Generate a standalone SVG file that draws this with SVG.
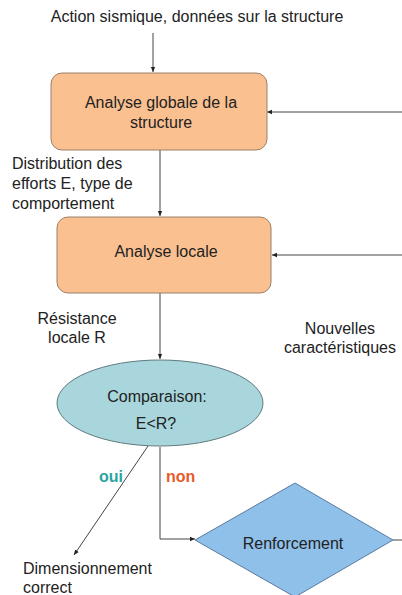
<svg xmlns="http://www.w3.org/2000/svg" width="402" height="595" viewBox="0 0 402 595">
<style>
text{font-family:"Liberation Sans",Arial,sans-serif;font-size:16px;fill:#222}
.c{text-anchor:middle}
.box{fill:#FAC090;stroke:#9a8068;stroke-width:1}
.ln{fill:none;stroke:#444;stroke-width:1;marker-end:url(#ah)}
</style>
<defs>
<marker id="ah" viewBox="0 0 8 8" refX="7" refY="4" markerWidth="6" markerHeight="6" orient="auto">
<path d="M0,1 L7,4 L0,7 z" fill="#222"/>
</marker>
</defs>
<rect width="402" height="595" fill="#fff"/>
<text class="c" x="197" y="22">Action sismique, données sur la structure</text>
<g id="connectors">
<line class="ln" x1="153" y1="33" x2="153" y2="72"/>
<line class="ln" x1="402" y1="112" x2="267" y2="112"/>
<line class="ln" x1="160" y1="150" x2="160" y2="216"/>
<line class="ln" x1="402" y1="255" x2="272" y2="255"/>
<line class="ln" x1="160" y1="293" x2="160" y2="359"/>
<line class="ln" x1="148" y1="446" x2="74" y2="555"/>
<polyline class="ln" points="160,447 160,539 195,539"/>
<line x1="393" y1="540" x2="402" y2="540" stroke="#444" stroke-width="1"/>
</g>
<g id="n1">
<rect class="box" x="51" y="73" width="216" height="77" rx="11"/>
<text class="c" x="161" y="108">Analyse globale de la</text>
<text class="c" x="161" y="128">structure</text>
</g>
<g id="lbl-distribution">
<text x="12" y="169">Distribution des</text>
<text x="12" y="189">efforts E, type de</text>
<text x="12" y="209">comportement</text>
</g>
<g id="n2">
<rect class="box" x="57" y="217" width="214" height="76" rx="11"/>
<text class="c" x="166" y="257">Analyse locale</text>
</g>
<g id="lbl-resistance">
<text class="c" x="77" y="324">Résistance</text>
<text class="c" x="77" y="343">locale R</text>
</g>
<g id="lbl-nouvelles">
<text class="c" x="340" y="334">Nouvelles</text>
<text class="c" x="340" y="353">caractéristiques</text>
</g>
<g id="n3">
<ellipse cx="160" cy="403" rx="103" ry="43" fill="#A8D6DC" stroke="#607a80" stroke-width="1"/>
<text class="c" x="157" y="402">Comparaison:</text>
<text class="c" x="156" y="429">E&lt;R?</text>
</g>
<text x="99" y="482" style="fill:#2aa3a3;font-weight:bold">oui</text>
<text x="166" y="482" style="fill:#e85a2a;font-weight:bold">non</text>
<g id="n4">
<polygon points="195,540 295,483 393,540 295,597" fill="#8EC0EA" stroke="#5a7aa0" stroke-width="1"/>
<text class="c" x="293" y="549">Renforcement</text>
</g>
<g id="lbl-dimension">
<text x="23" y="574">Dimensionnement</text>
<text x="23" y="593">correct</text>
</g>
</svg>
